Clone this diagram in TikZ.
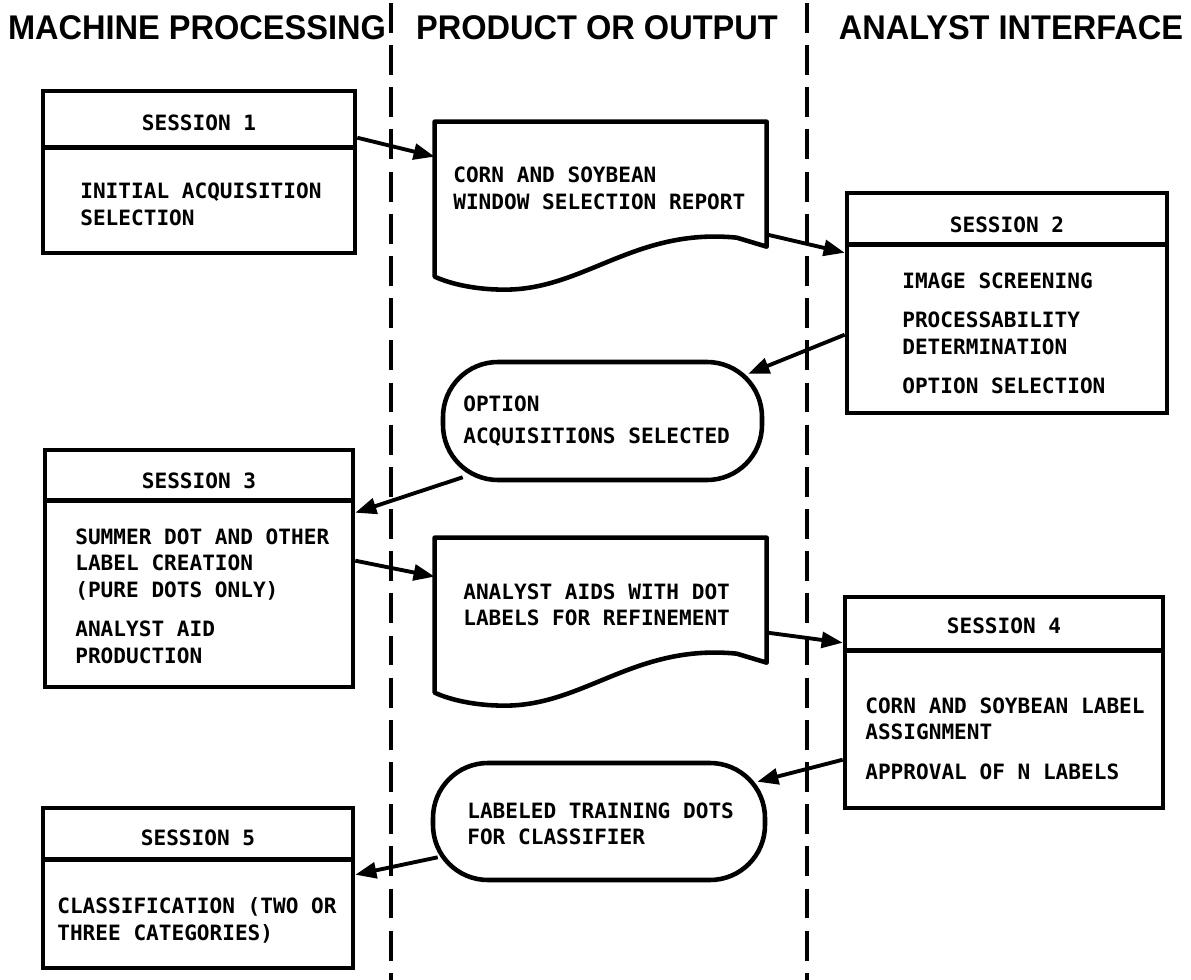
\documentclass[tikz,border=0pt]{standalone}
\usepackage{fontspec}
\usetikzlibrary{arrows.meta,calc,fit}
\newfontfamily\headfont[FakeStretch=0.95]{Liberation Sans}
\newfontfamily\boxfont{DejaVu Sans Mono}

\tikzset{
  sessbox/.style={draw, line width=2.6pt, inner sep=0pt},
  docbox/.style={inner sep=0pt},
  termbox/.style={draw, line width=2.6pt, inner sep=0pt, rounded corners=1.1cm},
  lanehead/.style={font=\headfont\bfseries\fontsize{19.5}{22}\selectfont, anchor=base, inner sep=0pt},
  sesstitle/.style={font=\boxfont\bfseries\fontsize{12}{15.3}\selectfont, inner sep=0pt},
  boxtext/.style={font=\boxfont\bfseries\fontsize{12}{15.3}\selectfont, inner sep=0pt, anchor=north west, align=left},
  flow/.style={line width=2.2pt, -{Triangle[length=12pt,width=9pt]}},
  lane/.style={line width=2.2pt, dash pattern=on 17pt off 7pt}
}

\begin{document}
\begin{tikzpicture}[x=0.02cm, y=-0.02cm]
    \useasboundingbox (0,0) rectangle (1191,980);

    % Lane headings and dashed separators
    \node[lanehead] (hmach) at (197,40) {MACHINE PROCESSING};
    \node[lanehead] (hprod) at (597,40) {PRODUCT OR OUTPUT};
    \node[lanehead] (hanal) at (1011,40) {ANALYST INTERFACE};
    \draw[lane] (391,3) -- (391,980);
    \draw[lane] (807,3) -- (807,980);

    % Session boxes
    \node[sessbox, fit={(43,91) (355,253)}] (s1) {};
    \node[sessbox, fit={(847,193) (1167,413)}] (s2) {};
    \node[sessbox, fit={(45,450) (353,687)}] (s3) {};
    \node[sessbox, fit={(845,597) (1163,808)}] (s4) {};
    \node[sessbox, fit={(43,808) (353,968)}] (s5) {};
    \foreach \s/\d in {s1/59, s2/54, s3/53, s4/56, s5/54} {
        \draw[line width=2.6pt] ($(\s.north west)+(0,\d)$) -- ($(\s.north east)+(0,\d)$);
    }

    \node[sesstitle] (s1t) at (199,123) {SESSION 1};
    \node[sesstitle] (s2t) at (1007,225) {SESSION 2};
    \node[sesstitle] (s3t) at (199,481) {SESSION 3};
    \node[sesstitle] (s4t) at (1004,626) {SESSION 4};
    \node[sesstitle] (s5t) at (198,838) {SESSION 5};

    \node[boxtext] (s1b) at (80,183) {INITIAL ACQUISITION\\SELECTION};
    \node[boxtext] (s2b) at (902,272) {IMAGE SCREENING\\[7pt]PROCESSABILITY\\DETERMINATION\\[7pt]OPTION SELECTION};
    \node[boxtext] (s3b) at (75,528) {SUMMER DOT AND OTHER\\LABEL CREATION\\(PURE DOTS ONLY)\\[7pt]ANALYST AID\\PRODUCTION};
    \node[boxtext] (s4b) at (865,697) {CORN AND SOYBEAN LABEL\\ASSIGNMENT\\[7pt]APPROVAL OF N LABELS};
    \node[boxtext] (s5b) at (57,897) {CLASSIFICATION (TWO OR\\THREE CATEGORIES)};

    % Reports (wavy bottom)
    \node[docbox, fit={(435,122) (767,290)}] (d1) {};
    \node[docbox, fit={(435,538) (767,706)}] (d2) {};
    \foreach \d in {d1, d2} {
        \draw[line width=2.6pt, line join=round, shift={(\d.north west)}]
            (0,0) -- (332,0) -- (332,125) -- (302,116)
            .. controls (200,106) and (150,168) .. (70,168)
            .. controls (40,168) and (15,162) .. (0,155) -- cycle;
    }
    \node[boxtext] (d1b) at (453,167) {CORN AND SOYBEAN\\WINDOW SELECTION REPORT};
    \node[boxtext] (d2b) at (463,583) {ANALYST AIDS WITH DOT\\LABELS FOR REFINEMENT};

    % Outputs (terminals)
    \node[termbox, fit={(443,362) (762,480)}] (o1) {};
    \node[termbox, fit={(433,763) (765,880)}] (o2) {};
    \node[boxtext] (o1b) at (463,395) {OPTION\\[3pt]ACQUISITIONS SELECTED};
    \node[boxtext] (o2b) at (467,802) {LABELED TRAINING DOTS\\FOR CLASSIFIER};

    % Flow
    \draw[flow] ($(s1.north east)+(0,49)$) -- ($(d1.north west)+(0,35)$);
    \draw[flow] ($(d1.north east)+(0,113)$) -- ($(s2.north west)+(0,62)$);
    \draw[flow] ($(s2.north west)+(0,144)$) -- ($(o1.north east)+(-16,14)$);
    \draw[flow] ($(o1.south west)+(22,-5)$) -- ($(s3.north east)+(0,65)$);
    \draw[flow] ($(s3.north east)+(0,113)$) -- ($(d2.north west)+(0,39)$);
    \draw[flow] ($(d2.north east)+(0,95)$) -- ($(s4.north west)+(0,48)$);
    \draw[flow] ($(s4.north west)+(0,165)$) -- ($(o2.north east)+(-10,21)$);
    \draw[flow] ($(o2.south west)+(7,-25)$) -- ($(s5.north east)+(0,69)$);
\end{tikzpicture}
\end{document}
